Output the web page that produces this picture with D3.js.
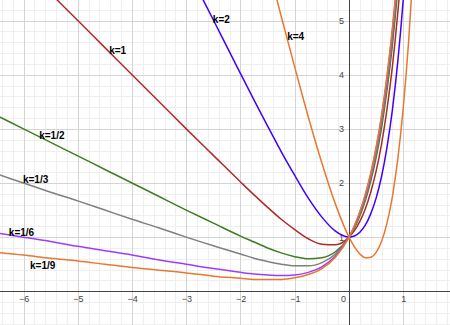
<!DOCTYPE html>
<html>
<head>
<meta charset="utf-8">
<script src="https://cdn.jsdelivr.net/npm/d3@7"></script>
<style>
  body { margin: 0; background: #fff; }
  svg { display: block; }
</style>
</head>
<body>
<div id="chart"></div>
<script>
// sample points (x shared by every curve)
var xValues = [-6.5, -6, -5.5, -5, -4.5, -4, -3.5, -3, -2.5, -2, -1.75, -1.5, -1.25, -1, -0.75, -0.5, -0.25,
               0, 0.1, 0.2, 0.3, 0.4, 0.5, 0.6, 0.7, 0.8, 0.9, 1.0, 1.1, 1.2];

var yK4   = [26, 24, 22, 20, 18, 16, 14, 12, 10.01, 8.02, 7.03, 6.05, 5.08, 4.14, 3.22, 2.37, 1.61,
             1.00, 0.82, 0.69, 0.62, 0.63, 0.72, 0.92, 1.26, 1.75, 2.45, 3.39, 4.63, 6.22];
var yK2   = [13, 12, 11, 10, 9, 8, 7, 6.00, 5.01, 4.02, 3.53, 3.05, 2.58, 2.14, 1.72, 1.37, 1.11,
             1.00, 1.02, 1.09, 1.22, 1.43, 1.72, 2.12, 2.66, 3.35, 4.25, 5.39, 6.83, 8.62];
var yK1   = [6.5, 6.00, 5.50, 5.00, 4.50, 4.00, 3.50, 3.00, 2.51, 2.02, 1.78, 1.55, 1.33, 1.14, 0.97, 0.87, 0.86,
             1.00, 1.12, 1.29, 1.52, 1.83, 2.22, 2.72, 3.36, 4.15, 5.15, 6.39, 7.93, 9.82];
var yK1_2 = [3.25, 3.00, 2.75, 2.50, 2.25, 2.00, 1.75, 1.50, 1.26, 1.02, 0.91, 0.80, 0.71, 0.64, 0.60, 0.62, 0.73,
             1.00, 1.17, 1.39, 1.67, 2.03, 2.47, 3.02, 3.71, 4.55, 5.60, 6.89, 8.48, 10.42];
var yK1_3 = [2.17, 2.00, 1.83, 1.67, 1.50, 1.33, 1.17, 1.00, 0.84, 0.69, 0.61, 0.55, 0.50, 0.47, 0.47, 0.53, 0.69,
             1.00, 1.19, 1.43, 1.72, 2.09, 2.55, 3.12, 3.82, 4.69, 5.75, 7.06, 8.66, 10.62];
var yK1_6 = [1.08, 1.00, 0.92, 0.83, 0.75, 0.67, 0.58, 0.50, 0.42, 0.35, 0.32, 0.30, 0.29, 0.30, 0.35, 0.45, 0.65,
             1.00, 1.21, 1.46, 1.77, 2.16, 2.64, 3.22, 3.94, 4.82, 5.90, 7.22, 8.84, 10.82];
var yK1_9 = [0.72, 0.67, 0.61, 0.56, 0.50, 0.44, 0.39, 0.34, 0.28, 0.24, 0.22, 0.22, 0.22, 0.25, 0.31, 0.42, 0.63,
             1.00, 1.21, 1.47, 1.79, 2.18, 2.66, 3.25, 3.98, 4.86, 5.95, 7.28, 8.90, 10.89];

var curveNames  = ["k=4", "k=2", "k=1", "k=1/2", "k=1/3", "k=1/6", "k=1/9"];
var curveColors = ["#e8782e", "#3f00ff", "#b02a2a", "#3f7d22", "#7f7f7f", "#9d3cff", "#e8782e"];
var curveYs     = [yK4, yK2, yK1, yK1_2, yK1_3, yK1_6, yK1_9];

// label anchor points (data units)
var labelX = [-1.14, -2.51, -4.42, -5.71, -6.01, -6.27, -5.88];
var labelY = [4.65, 4.95, 4.39, 2.82, 2.00, 1.02, 0.42];

var xTicks = [-6, -5, -4, -3, -2, -1, 1];
var yTicks = [1, 2, 3, 4, 5];

var width = 450, height = 325;

var svg = d3.select("#chart")
  .append("svg")
    .attr("width", width)
    .attr("height", height);

var x = d3.scaleLinear()
  .domain([-349 / 54.25, 101 / 54.25])
  .range([0, width]);

var y = d3.scaleLinear()
  .domain([(291.3 - 325) / 54.15, 291.3 / 54.15])
  .range([height, 0]);

// grid: minor every 0.2, major every 1
var minorX = d3.range(-32, 10).map(function(i){ return i / 5; }).filter(function(v){ return v % 1 !== 0; });
var minorY = d3.range(-3, 27).map(function(i){ return i / 5; }).filter(function(v){ return v % 1 !== 0; });
var majorX = d3.range(-6, 2);
var majorY = d3.range(0, 6);

var grid = svg.append("g").attr("shape-rendering", "crispEdges");
grid.selectAll(".minx").data(minorX).enter().append("line")
  .attr("x1", function(d){ return Math.round(x(d)) + 0.5; }).attr("x2", function(d){ return Math.round(x(d)) + 0.5; })
  .attr("y1", 0).attr("y2", height)
  .attr("stroke", "#efefef");
grid.selectAll(".miny").data(minorY).enter().append("line")
  .attr("y1", function(d){ return Math.round(y(d)) + 0.5; }).attr("y2", function(d){ return Math.round(y(d)) + 0.5; })
  .attr("x1", 0).attr("x2", width)
  .attr("stroke", "#efefef");
grid.selectAll(".majx").data(majorX).enter().append("line")
  .attr("x1", function(d){ return Math.round(x(d)) + 0.5; }).attr("x2", function(d){ return Math.round(x(d)) + 0.5; })
  .attr("y1", 0).attr("y2", height)
  .attr("stroke", "#d4d4d4");
grid.selectAll(".majy").data(majorY).enter().append("line")
  .attr("y1", function(d){ return Math.round(y(d)) + 0.5; }).attr("y2", function(d){ return Math.round(y(d)) + 0.5; })
  .attr("x1", 0).attr("x2", width)
  .attr("stroke", "#d4d4d4");

// axes lines
svg.append("line")
  .attr("x1", 0).attr("x2", width)
  .attr("y1", Math.round(y(0)) + 0.5).attr("y2", Math.round(y(0)) + 0.5)
  .attr("stroke", "#444").attr("shape-rendering", "crispEdges");
svg.append("line")
  .attr("y1", 0).attr("y2", height)
  .attr("x1", Math.round(x(0)) + 0.5).attr("x2", Math.round(x(0)) + 0.5)
  .attr("stroke", "#444").attr("shape-rendering", "crispEdges");

// tick labels
var xAxis = svg.append("g")
  .attr("transform", "translate(0," + y(0) + ")")
  .call(d3.axisBottom(x).tickValues(xTicks).tickFormat(d3.format("d")).tickSize(0).tickPadding(4));
xAxis.select(".domain").remove();
xAxis.selectAll("text").style("font", "9px 'Liberation Sans', Arial, sans-serif").attr("fill", "#444");

var yAxis = svg.append("g")
  .attr("transform", "translate(" + x(0) + ",0)")
  .call(d3.axisLeft(y).tickValues(yTicks).tickFormat(d3.format("d")).tickSize(0).tickPadding(5));
yAxis.select(".domain").remove();
yAxis.selectAll("text").style("font", "9px 'Liberation Sans', Arial, sans-serif").attr("fill", "#444");

svg.append("text")
  .attr("x", x(0) - 3)
  .attr("y", y(0) + 4)
  .attr("dy", "0.71em")
  .attr("text-anchor", "end")
  .style("font", "9px 'Liberation Sans', Arial, sans-serif")
  .attr("fill", "#444")
  .text("0");

// curves
svg.append("clipPath").attr("id", "plotclip")
  .append("rect").attr("x", 0).attr("y", 0).attr("width", width).attr("height", height);

var line = d3.line()
  .curve(d3.curveMonotoneX)
  .x(function(d){ return x(d[0]); })
  .y(function(d){ return y(d[1]); });

var curves = curveNames.map(function(name, i){
  return { name: name, color: curveColors[i], pts: xValues.map(function(v, j){ return [v, curveYs[i][j]]; }) };
});

svg.append("g").attr("clip-path", "url(#plotclip)")
  .selectAll("path")
  .data(curves)
  .enter()
  .append("path")
    .attr("fill", "none")
    .attr("stroke", function(d){ return d.color; })
    .attr("stroke-width", 1.5)
    .attr("d", function(d){ return line(d.pts); });

// curve labels
svg.selectAll(".klabel")
  .data(curveNames)
  .enter()
  .append("text")
    .attr("class", "klabel")
    .attr("x", function(d, i){ return x(labelX[i]); })
    .attr("y", function(d, i){ return y(labelY[i]); })
    .style("font", "bold 10px 'Liberation Sans', Arial, sans-serif")
    .attr("fill", "#000")
    .text(function(d){ return d; });
</script>
</body>
</html>
